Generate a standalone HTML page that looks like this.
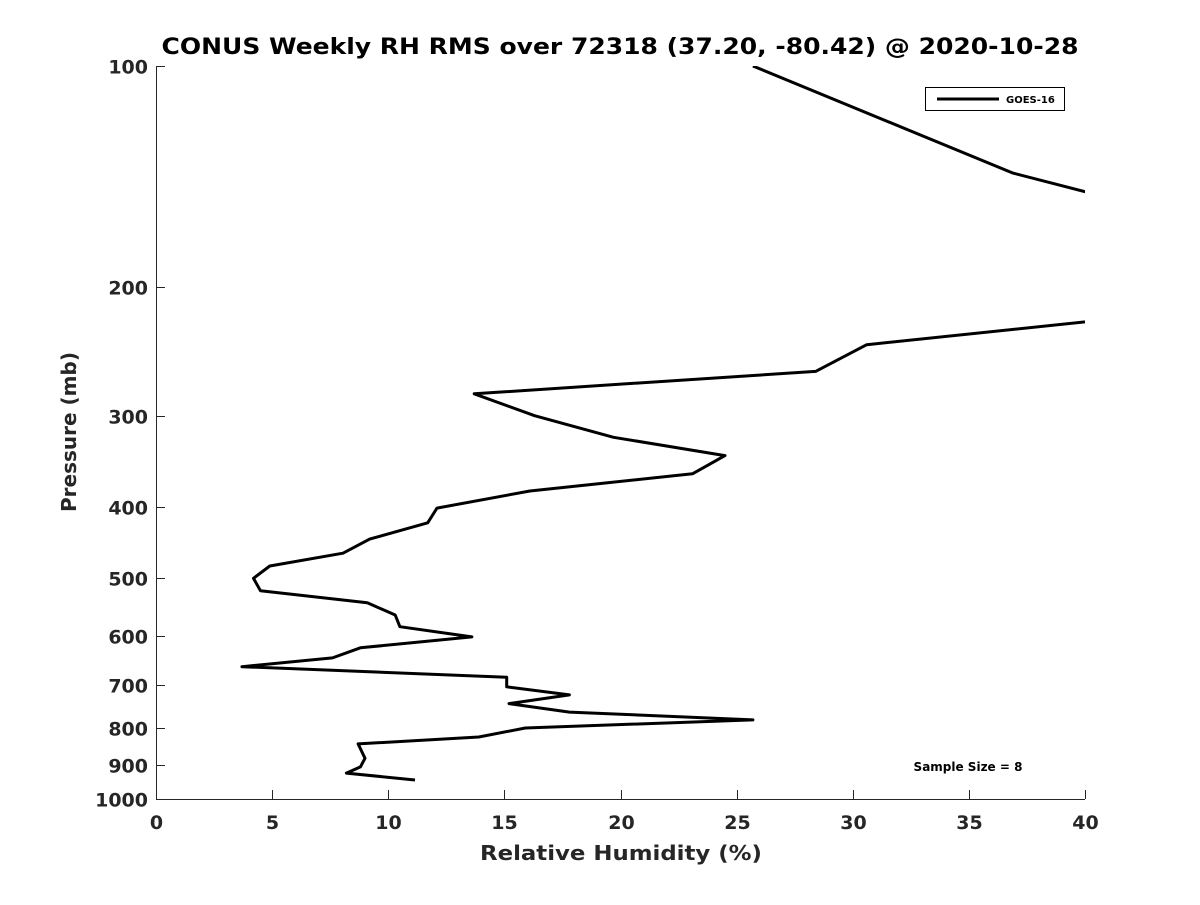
<!DOCTYPE html>
<html><head><meta charset="utf-8"><style>
html,body{margin:0;padding:0;background:#fff;}
text{font-family:"DejaVu Sans","Liberation Sans",sans-serif;font-weight:bold;fill:#262626;}
</style></head><body>
<svg width="1200" height="900" viewBox="0 0 1200 900">
<defs><clipPath id="plotclip"><rect x="156" y="66" width="929" height="733"/></clipPath></defs>
<rect width="1200" height="900" fill="#fff"/>
<text x="620" y="54" text-anchor="middle" font-size="22" textLength="917" lengthAdjust="spacingAndGlyphs" style="fill:#000">CONUS Weekly RH RMS over 72318 (37.20, -80.42) @ 2020-10-28</text>
<g id="axes"></g>
<polyline id="series" clip-path="url(#plotclip)" fill="none" stroke="#000" stroke-width="3" stroke-linejoin="round"/>
<text x="76" y="432" text-anchor="middle" font-size="20" transform="rotate(-90 76 432)">Pressure (mb)</text>
<text x="621" y="860" text-anchor="middle" font-size="20" textLength="282" lengthAdjust="spacingAndGlyphs">Relative Humidity (%)</text>
<g>
<rect x="925.5" y="87.5" width="139" height="23" fill="#fff" stroke="#000" stroke-width="1"/>
<line x1="937" y1="99" x2="999" y2="99" stroke="#000" stroke-width="3"/>
<text x="1006" y="103" font-size="10" style="fill:#000">GOES-16</text>
</g>
<text x="968" y="771" text-anchor="middle" font-size="12" style="fill:#000">Sample Size = 8</text>
</svg>
<script>
const xTicks=[0,5,10,15,20,25,30,35,40];
const yTicks=[100,200,300,400,500,600,700,800,900,1000];
const pressure=[100,140,160,220,240,261,280,300,321,340,360,380,401,420,442,462,481,500,520,540,561,582,601,622,642,660,682,703,721,741,761,780,800,823,841,880,904,922,942];
const rh=[25.7,36.9,44,42,30.6,28.4,13.7,16.3,19.7,24.5,23.1,16.1,12.1,11.7,9.2,8.05,4.9,4.2,4.5,9.1,10.3,10.5,13.6,8.8,7.6,3.7,15.1,15.1,17.8,15.2,17.8,25.7,15.9,13.9,8.7,9.0,8.8,8.2,11.15];
const X0=156,X1=1085,Y0=66,Y1=799;
function xs(v){return X0+(v-0)/(40-0)*(X1-X0);}
function ys(p){return Y0+(Math.log10(p)-2)/(3-2)*(Y1-Y0);}
const NS="http://www.w3.org/2000/svg";
const axes=document.getElementById('axes');
function mk(tag,attrs){const e=document.createElementNS(NS,tag);for(const k in attrs)e.setAttribute(k,attrs[k]);axes.appendChild(e);return e;}
const xl=mk('line',{x1:X0,y1:Y1+0.5,x2:X1,y2:Y1+0.5,stroke:'#262626','stroke-width':1});


const yl=mk('line',{x1:X0+0.5,y1:Y0,x2:X0+0.5,y2:Y1,stroke:'#262626','stroke-width':1});


xTicks.forEach(v=>{const x=Math.round(xs(v))+0.5;
mk('line',{x1:x,y1:Y1,x2:x,y2:Y1-9,stroke:'#262626','stroke-width':1});
const t=mk('text',{x:x,y:Y1+30,'text-anchor':'middle','font-size':19});t.textContent=v;

});
yTicks.forEach(p=>{const y=Math.round(ys(p))+0.5;
mk('line',{x1:X0,y1:y,x2:X0+9,y2:y,stroke:'#262626','stroke-width':1});
const t=mk('text',{x:X0-8,y:y+7,'text-anchor':'end','font-size':19});t.textContent=p;

});
document.getElementById('series').setAttribute('points',pressure.map((p,i)=>xs(rh[i]).toFixed(1)+','+ys(p).toFixed(1)).join(' '));
</script>
</body></html>
